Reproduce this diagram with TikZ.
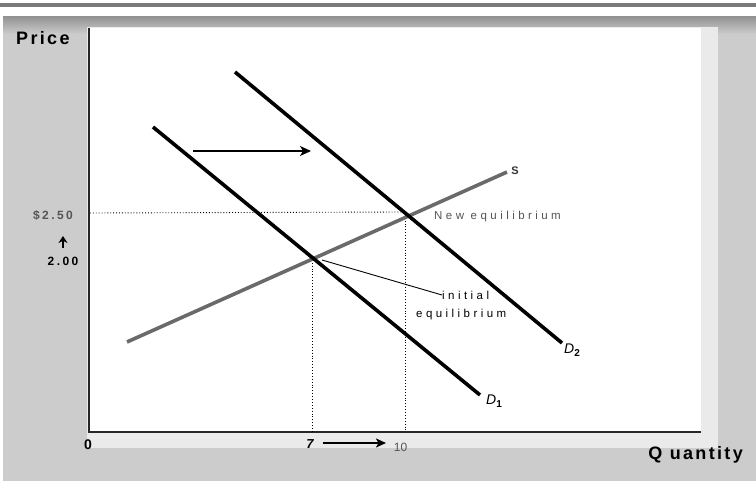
\documentclass[tikz,border=0pt]{standalone}
\usepackage{fontspec}
\setmainfont{Liberation Sans}
\usetikzlibrary{arrows.meta}
\definecolor{panel}{HTML}{CCCCCC}
\definecolor{frame}{HTML}{EAEAEA}
\definecolor{topbar}{HTML}{7A7A7A}
\definecolor{sline}{HTML}{6A6A6A}
\definecolor{labgray}{HTML}{555555}
\tikzset{
  demand/.style={line width=3.6pt, black},
  supply/.style={line width=3.6pt, sline},
  guide/.style={line width=0.9pt, dotted, black},
  axisline/.style={line width=1.8pt, black!85},
  shiftarrow/.style={line width=1.5pt, -{Stealth[length=11pt,width=10pt,inset=3pt]}},
  small/.style={font=\fontsize{11.5}{13}\selectfont\addfontfeatures{LetterSpace=30}, inner sep=0pt},
  tick/.style={font=\fontsize{12}{13}\selectfont\bfseries\addfontfeatures{LetterSpace=20}, inner sep=0pt},
  big/.style={font=\fontsize{18}{20}\selectfont\bfseries\addfontfeatures{LetterSpace=13}, inner sep=0pt},
  dlab/.style={font=\fontsize{14}{15}\selectfont\itshape, inner sep=0pt},
}
\newcommand{\dsub}[1]{\raisebox{-3pt}{\fontsize{10}{10}\selectfont\bfseries\upshape #1}}
\begin{document}
\begin{tikzpicture}[x=1pt,y=-1pt]
\useasboundingbox (0,0) rectangle (756,481);
\fill[white] (0,0) rectangle (756,481);
\fill[topbar] (0,3) rectangle (756,7.5);
\fill[panel] (3,17) rectangle (756,481);
\shade[top color=black!42, bottom color=panel] (3,17) rectangle (756,34);
\fill[frame] (87,27) rectangle (718,448);
\fill[white] (90,28) rectangle (701,432);
% axes
\draw[axisline] (89,28) -- (89,433);
\draw[axisline] (88,432) -- (701,432);
% key points
\coordinate (E1) at (312,257);
\coordinate (E2) at (405,212);
\coordinate (D1s) at (153,127);
\coordinate (D1e) at (480,395);
\coordinate (D2s) at (235,72);
\coordinate (D2e) at (562,343);
\coordinate (Ss) at (127,342);
\coordinate (Se) at (507,172);
\coordinate (Ya) at (90,213);
\coordinate (X7) at (312,432);
\coordinate (X10) at (405,432);
% guides
\draw[guide] (Ya) -- (E2);
\draw[guide] (E1) -- (X7);
\draw[guide] (E2) -- (X10);
% curves
\draw[supply] (Ss) -- (Se);
\draw[demand] (D1s) -- (D1e);
\draw[demand] (D2s) -- (D2e);
% shift arrow
\coordinate (A1) at (193,151);
\coordinate (A2) at (311,151);
\draw[shiftarrow] (A1) -- (A2);
% labels
\node[inner sep=0pt, font=\fontsize{11}{12}\selectfont\bfseries, text=black!80] (S) at (515,171) {S};
\node[small, text=labgray, anchor=west] (newe) at (434,217) {New equilibrium};
\node[small, anchor=west] (init1) at (442,295) {initial};
\node[small, anchor=west] (init2) at (416,315) {equilibrium};
\coordinate (C1) at (322,260);
\draw[line width=0.9pt] (init1.west) -- (C1);
\node[dlab] (d1) at (494,401) {D\dsub{1}};
\node[dlab] (d2) at (572,350) {D\dsub{2}};
\node[tick, text=labgray] (p250) at (53,215) {\$2.50};
\node[tick] (p200) at (63,261) {2.00};
\coordinate (U1) at (63,248);
\coordinate (U2) at (63,236);
\draw[line width=2pt, -{Stealth[length=7pt,width=9pt]}] (U1) -- (U2);
\node[inner sep=0pt, font=\fontsize{14}{14}\selectfont\bfseries] (zero) at (88,444.5) {0};
\node[inner sep=0pt, font=\fontsize{13}{14}\selectfont\bfseries\itshape] (seven) at (310,444.5) {7};
\node[inner sep=0pt, font=\fontsize{12}{13}\selectfont, text=labgray] (ten) at (400.5,447) {10};
\coordinate (B1) at (323,443);
\coordinate (B2) at (386,443);
\draw[line width=2.2pt, -{Stealth[length=10pt,width=9pt,inset=2.5pt]}] (B1) -- (B2);
\node[big, anchor=west] (price) at (16,38) {Price};
\node[big, anchor=east] (qty) at (743,455) {Q uantity};
\end{tikzpicture}
\end{document}
